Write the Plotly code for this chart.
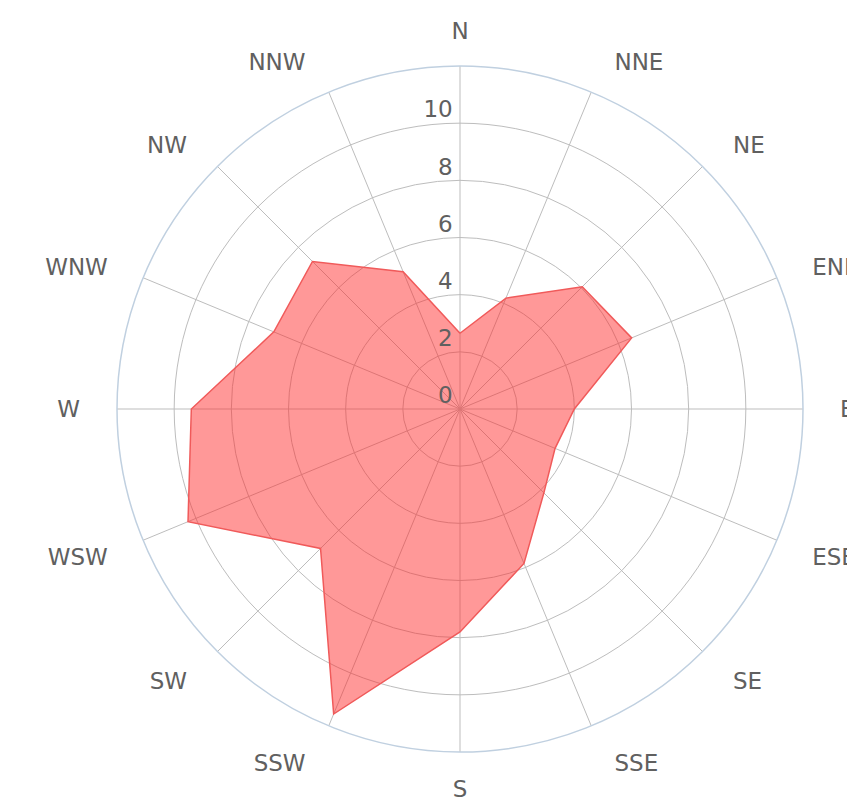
import plotly.graph_objects as go

directions = ["N", "NNE", "NE", "ENE", "E", "ESE", "SE", "SSE",
              "S", "SSW", "SW", "WSW", "W", "WNW", "NW", "NNW"]
values = [2.65, 4.2, 6.05, 6.5, 4.0, 3.6, 4.15, 5.85,
          7.8, 11.55, 6.9, 10.3, 9.4, 7.05, 7.3, 5.2]
radial_ticks = [0, 2, 4, 6, 8, 10]
radial_labels = ["0", "2", "4", "6", "8", "10"]

label_font = dict(family="DejaVu Sans", size=23, color="#606060")
pad = "\u00a0\u00a0"

fig = go.Figure()
fig.add_trace(go.Scatterpolar(
    r=values + [values[0]],
    theta=directions + [directions[0]],
    mode="lines",
    fill="toself",
    fillcolor="rgba(255,40,40,0.48)",
    line=dict(color="rgba(240,90,90,1)", width=1.5),
    hoverinfo="skip",
    showlegend=False,
))
fig.add_trace(go.Scatterpolar(
    r=radial_ticks,
    theta=["N"] * len(radial_ticks),
    mode="text",
    text=[t + "\u00a0" for t in radial_labels],
    textposition="top left",
    textfont=label_font,
    hoverinfo="skip",
    showlegend=False,
))

fig.update_layout(
    width=855, height=804,
    margin=dict(l=109, r=60, t=58, b=60),
    paper_bgcolor="white",
    plot_bgcolor="white",
    polar=dict(
        bgcolor="white",
        domain=dict(x=[0, 1], y=[0, 1]),
        radialaxis=dict(
            range=[0, 12], dtick=2, tick0=0,
            showticklabels=False, ticks="",
            showline=False,
            gridcolor="#BDBDBD", gridwidth=1,
        ),
        angularaxis=dict(
            type="category",
            categoryarray=directions,
            tickmode="array",
            tickvals=directions,
            ticktext=[pad + d + pad for d in directions],
            rotation=90, direction="clockwise",
            linecolor="#C0D0E0", linewidth=1.5,
            gridcolor="#BDBDBD", gridwidth=1,
            ticks="outside", ticklen=17, tickcolor="rgba(0,0,0,0)",
            tickfont=label_font,
        ),
    ),
)

fig.write_html("out.html")
